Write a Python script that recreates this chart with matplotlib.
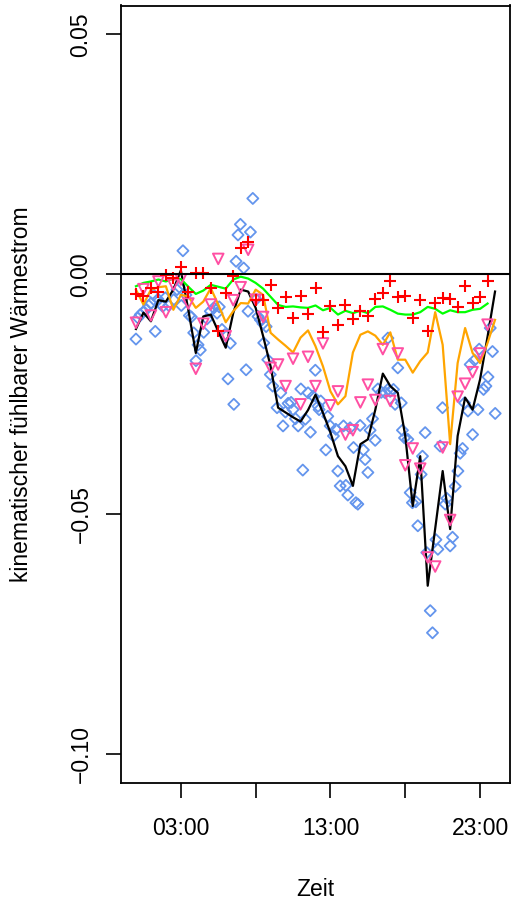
import numpy as np
import matplotlib
matplotlib.use('Agg')
import matplotlib.pyplot as plt

plt.rcParams['font.family'] = ['Liberation Sans', 'DejaVu Sans']

# halbstuendliche Zeitpunkte (Stunden)
t_half = np.arange(0, 24.01, 0.5)

# schwarze Linie (49 Werte, 00:00 - 24:00)
black_v = [-0.0114, -0.0080, -0.0098, -0.0054, -0.0057, -0.0032, 0.0008, -0.0074,
           -0.0164, -0.0088, -0.0084, -0.0119, -0.0153, -0.0081, -0.0032, -0.0036,
           -0.0070, -0.0129, -0.0192, -0.0278, -0.0288, -0.0298, -0.0307, -0.0283,
           -0.0251, -0.0289, -0.0330, -0.0379, -0.0400, -0.0441, -0.0354, -0.0344,
           -0.0282, -0.0207, -0.0233, -0.0247, -0.0337, -0.0483, -0.0379, -0.0649,
           -0.0530, -0.0410, -0.0531, -0.0337, -0.0257, -0.0282, -0.0219, -0.0130,
           -0.0036]

# orange Linie (49 Werte)
orange_v = [-0.0032, -0.0063, -0.0032, -0.0027, -0.0025, -0.0074, -0.0043, -0.0046,
            -0.0070, -0.0057, -0.0029, -0.0063, -0.0100, -0.0077, -0.0060, -0.0061,
            -0.0032, -0.0043, -0.0122, -0.0136, -0.0149, -0.0163, -0.0132, -0.0117,
            -0.0150, -0.0192, -0.0244, -0.0271, -0.0254, -0.0163, -0.0126, -0.0119,
            -0.0128, -0.0147, -0.0121, -0.0178, -0.0178, -0.0205, -0.0181, -0.0163,
            -0.0079, -0.0147, -0.0354, -0.0185, -0.0112, -0.0164, -0.0185, -0.0143,
            -0.0095]

# gruene Linie (48 Werte, 00:00 - 23:30)
green_v = [-0.0025, -0.0018, -0.0015, -0.0011, -0.0015, -0.0009, -0.0010, -0.0026,
           -0.0041, -0.0034, -0.0022, -0.0026, -0.0030, -0.0011, -0.0005, -0.0009,
           -0.0018, -0.0030, -0.0047, -0.0064, -0.0068, -0.0067, -0.0069, -0.0070,
           -0.0065, -0.0075, -0.0070, -0.0084, -0.0076, -0.0081, -0.0076, -0.0081,
           -0.0068, -0.0067, -0.0074, -0.0082, -0.0084, -0.0084, -0.0079, -0.0068,
           -0.0072, -0.0082, -0.0075, -0.0079, -0.0079, -0.0074, -0.0072, -0.0061]

# rote Kreuze (48 Werte)
red_v = [-0.0041, -0.0046, -0.0029, -0.0036, -0.0001, -0.0008, 0.0016, -0.0036,
         0.0002, 0.0002, -0.0029, -0.0119, -0.0039, -0.0003, 0.0054, 0.0068,
         -0.0053, -0.0053, -0.0022, -0.0070, -0.0047, -0.0091, -0.0046, -0.0083,
         -0.0029, -0.0121, -0.0067, -0.0105, -0.0065, -0.0093, -0.0077, -0.0086,
         -0.0052, -0.0038, -0.0013, -0.0047, -0.0045, -0.0091, -0.0054, -0.0119,
         -0.0059, -0.0049, -0.0052, -0.0068, -0.0025, -0.0059, -0.0047, -0.0013]

# rosa Dreiecke (48 Werte)
pink_v = [-0.0101, -0.0031, -0.0086, -0.0015, -0.0079, -0.0022, -0.0011, -0.0061,
          -0.0197, -0.0103, -0.0063, 0.0032, -0.0129, -0.0054, -0.0027, 0.0051,
          -0.0053, -0.0089, -0.0195, -0.0188, -0.0233, -0.0176, -0.0271, -0.0172,
          -0.0233, -0.0144, -0.0273, -0.0244, -0.0334, -0.0325, -0.0267, -0.0230,
          -0.0262, -0.0156, -0.0264, -0.0165, -0.0398, -0.0363, -0.0405, -0.0590,
          -0.0609, -0.0361, -0.0512, -0.0255, -0.0228, -0.0204, -0.0165, -0.0105]

# blaue Rauten
blue_t = [0.00, 0.13, 0.29, 0.47, 0.67, 0.85, 1.02, 1.18, 1.29, 1.47, 1.63, 1.79,
          1.96, 2.19, 2.52, 2.74, 2.90, 3.03, 3.14, 3.34, 3.57, 3.70, 3.86, 4.01,
          4.15, 4.30, 4.53, 4.75, 4.97, 5.20, 5.42, 5.57, 5.75, 5.93, 6.15, 6.31,
          6.54, 6.69, 6.82, 6.98, 7.20, 7.36, 7.49, 7.65, 7.81, 8.03, 8.16, 8.31,
          8.49, 8.54, 8.70, 8.81, 8.98, 9.14, 9.43, 9.68, 9.83, 9.99, 10.17, 10.37,
          10.50, 10.66, 10.84, 11.02, 11.15, 11.32, 11.50, 11.66, 11.84, 11.99, 12.17, 12.24,
          12.35, 12.69, 12.82, 12.98, 13.20, 13.36, 13.49, 13.65, 13.87, 14.03, 14.16, 14.31,
          14.54, 14.70, 14.83, 14.98, 15.20, 15.32, 15.50, 15.65, 15.81, 15.99, 16.17, 16.39,
          16.66, 16.84, 16.84, 16.99, 17.21, 17.32, 17.50, 17.73, 17.81, 17.95, 18.17, 18.33,
          18.48, 18.71, 18.84, 19.06, 19.15, 19.33, 19.44, 19.67, 19.82, 20.05, 20.18, 20.33,
          20.49, 20.67, 20.78, 21.00, 21.16, 21.34, 21.52, 21.67, 21.83, 21.96, 22.19, 22.34,
          22.50, 22.63, 22.86, 22.94, 23.23, 23.39, 23.53, 23.68, 23.83, 24.01]
blue_v = [-0.0135, -0.0091, -0.0084, -0.0079, -0.0074, -0.0065, -0.0060, -0.0043, -0.0119, -0.0052, -0.0061, -0.0067,
          -0.0049, -0.0065, -0.0053, -0.0032, -0.0027, -0.0065, 0.0049, -0.0043, -0.0086, -0.0089, -0.0122, -0.0180,
          -0.0147, -0.0158, -0.0121, -0.0093, -0.0077, -0.0070, -0.0081, -0.0068, -0.0115, -0.0126, -0.0218, -0.0144,
          -0.0271, 0.0027, 0.0082, 0.0104, 0.0013, -0.0199, -0.0077, 0.0088, 0.0158, -0.0052, -0.0088, -0.0095,
          -0.0103, -0.0143, -0.0109, -0.0178, -0.0209, -0.0233, -0.0278, -0.0247, -0.0316, -0.0287, -0.0269, -0.0267,
          -0.0282, -0.0301, -0.0316, -0.0239, -0.0408, -0.0302, -0.0247, -0.0329, -0.0254, -0.0200, -0.0275, -0.0282,
          -0.0264, -0.0366, -0.0296, -0.0316, -0.0337, -0.0323, -0.0410, -0.0441, -0.0316, -0.0440, -0.0460, -0.0320,
          -0.0361, -0.0476, -0.0479, -0.0315, -0.0366, -0.0386, -0.0413, -0.0325, -0.0301, -0.0346, -0.0239, -0.0246,
          -0.0247, -0.0240, -0.0133, -0.0244, -0.0240, -0.0271, -0.0195, -0.0268, -0.0325, -0.0341, -0.0344, -0.0455,
          -0.0476, -0.0474, -0.0524, -0.0417, -0.0379, -0.0330, -0.0580, -0.0701, -0.0747, -0.0553, -0.0573, -0.0358,
          -0.0278, -0.0479, -0.0467, -0.0566, -0.0548, -0.0442, -0.0410, -0.0373, -0.0363, -0.0268, -0.0285, -0.0188,
          -0.0334, -0.0179, -0.0282, -0.0156, -0.0240, -0.0233, -0.0214, -0.0112, -0.0161, -0.0290]

tick_pos = [3, 8, 13, 18, 23]
tick_lab = ['03:00', '', '13:00', '', '23:00']
ytick_pos = [0.05, 0.0, -0.05, -0.10]
ytick_lab = ['0.05', '0.00', '\u22120.05', '\u22120.10']

fs = 16.5
fig = plt.figure(figsize=(5.13, 9.06), dpi=100)
ax = fig.add_axes([121 / 513, 1 - 783 / 906, (510 - 121) / 513, (783 - 5.5) / 906])

ax.scatter(blue_t, blue_v, marker='D', s=32, facecolors='none',
           edgecolors='cornflowerblue', linewidths=1.3, zorder=2)
ax.plot(t_half, black_v, color='black', lw=1.6, zorder=3)
ax.plot(t_half, orange_v, color='orange', lw=1.6, zorder=3)
ax.plot(t_half[:-1], green_v, color='#00ff00', lw=1.6, zorder=3)
ax.scatter(t_half[:-1], pink_v, marker='v', s=58, facecolors='none',
           edgecolors='#ff4fa3', linewidths=1.4, zorder=4)
ax.scatter(t_half[:-1], red_v, marker='+', s=85, color='red', linewidths=1.5, zorder=4)
ax.axhline(0, color='black', lw=1.5, zorder=5)

ax.set_xlim(-1.0, 25.0)
ax.set_ylim(-0.106, 0.056)
ax.set_xticks(tick_pos)
ax.set_xticklabels(tick_lab, fontsize=fs)
ax.set_yticks(ytick_pos)
ax.set_yticklabels(ytick_lab, fontsize=fs, rotation=90, va='center')
ax.tick_params(axis='x', direction='out', length=10.5, width=1.2, pad=14)
ax.tick_params(axis='y', direction='out', length=10.5, width=1.2, pad=10)

for s in ax.spines.values():
    s.set_linewidth(1.3)

ax.set_xlabel('Zeit', fontsize=fs, labelpad=27)
ax.set_ylabel('kinematischer fühlbarer Wärmestrom', fontsize=fs, labelpad=26)

fig.savefig('out.png', dpi=100)
